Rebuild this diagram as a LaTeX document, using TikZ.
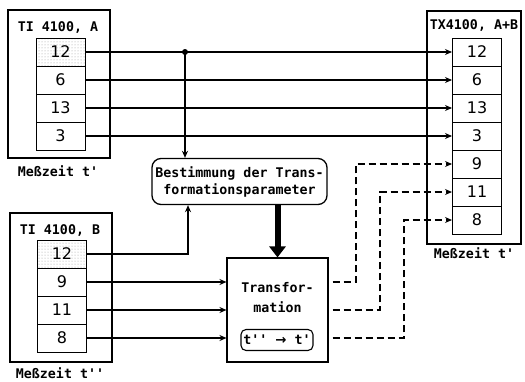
\documentclass[tikz,border=0pt]{standalone}
\usepackage{fontspec}
\setmonofont{DejaVu Sans Mono}
\newfontfamily\handfont{DejaVu Sans}
\usetikzlibrary{arrows.meta,patterns}
\begin{document}
\begin{tikzpicture}[x=1pt,y=-1pt,
  every node/.style={font=\ttfamily\bfseries\fontsize{13.3}{15}\selectfont},
  cell/.style={draw,line width=1pt,minimum width=49pt,minimum height=28pt,inner sep=0pt,
    font=\handfont\fontsize{16}{18}\selectfont},
  shaded/.style={cell,pattern=dots,pattern color=gray!80},
  outerbox/.style={draw,line width=2.6pt},
  conn/.style={line width=1.3pt,-{Stealth[length=7pt,width=6pt]}},
  dconn/.style={conn,dash pattern=on 7pt off 4pt},
  lbl/.style={inner sep=0pt}]
\useasboundingbox (0,0) rectangle (525,381);
% box A
\draw[outerbox] (8,10) rectangle (110,158);
\node[lbl] (ta) at (58,27) {TI 4100, A};
\node[shaded] (a1) at (60.5,52) {};
\node[lbl,font=\handfont\fontsize{16}{18}\selectfont] at (a1) {12};
\node[cell] (a2) at (60.5,80) {6};
\node[cell] (a3) at (60.5,108) {13};
\node[cell] (a4) at (60.5,136) {3};
\node[lbl] (ma) at (58,171) {Meßzeit t'};
% box B
\draw[outerbox] (10,213) rectangle (112,362);
\node[lbl] (tb) at (60,230) {TI 4100, B};
\node[shaded] (b1) at (62,254) {};
\node[lbl,font=\handfont\fontsize{16}{18}\selectfont] at (b1) {12};
\node[cell] (b2) at (62,282) {9};
\node[cell] (b3) at (62,310) {11};
\node[cell] (b4) at (62,338) {8};
\node[lbl] (mb) at (60,373) {Meßzeit t''};
% right box
\draw[outerbox] (427,11) rectangle (521,244);
\node[lbl] (tr0) at (474,25) {TX4100, A+B};
\node[cell] (r1) at (477,52) {12};
\node[cell] (r2) at (477,80) {6};
\node[cell] (r3) at (477,108) {13};
\node[cell] (r4) at (477,136) {3};
\node[cell] (r5) at (477,164) {9};
\node[cell] (r6) at (477,192) {11};
\node[cell] (r7) at (477,220) {8};
\node[lbl] (mr) at (474,253) {Meßzeit t'};
% Bestimmung
\node[draw,line width=1.3pt,rounded corners=9pt,minimum width=175pt,minimum height=46pt,
  align=center,inner sep=2pt] (bst) at (239.5,181.5) {Bestimmung der Trans-\\[2pt]formationsparameter};
% Transformation
\node[draw,line width=1.1pt,minimum width=101pt,minimum height=104pt] (trf) at (277.5,310) {};
\node[lbl,align=center] (trt) at (277.5,297.5) {Transfor-\\[5pt]mation};
\node[draw,line width=1.1pt,rounded corners=5pt,minimum width=72pt,minimum height=21pt,inner sep=0pt] (tt) at (277,340) {t''~{\handfont →}~t'};
% connectors A -> right
\draw[conn] (a1.east) -- (r1.west);
\draw[conn] (a2.east) -- (r2.west);
\draw[conn] (a3.east) -- (r3.west);
\draw[conn] (a4.east) -- (r4.west);
\coordinate (dot) at (185,52);
\fill (dot) circle (3pt);
\draw[conn] (dot) -- (dot |- bst.north);
\draw[conn] (b1.east) -| ([xshift=-51.5pt]bst.south);
\draw[line width=6pt,-{Triangle[length=11pt,width=16pt]}] (bst.south -| trf.north) -- (trf.north);
\draw[conn] (b2.east) -- (trf.west |- b2.east);
\draw[conn] (b3.east) -- (trf.west |- b3.east);
\draw[conn] (b4.east) -- (trf.west |- b4.east);
% dashed
\draw[dconn] ([xshift=4pt]trf.east |- b2.east) -| (356,164) -- (r5.west);
\draw[dconn] ([xshift=4pt]trf.east |- b3.east) -| (380,192) -- (r6.west);
\draw[dconn] ([xshift=4pt]trf.east |- b4.east) -| (404,220) -- (r7.west);
\end{tikzpicture}
\end{document}
